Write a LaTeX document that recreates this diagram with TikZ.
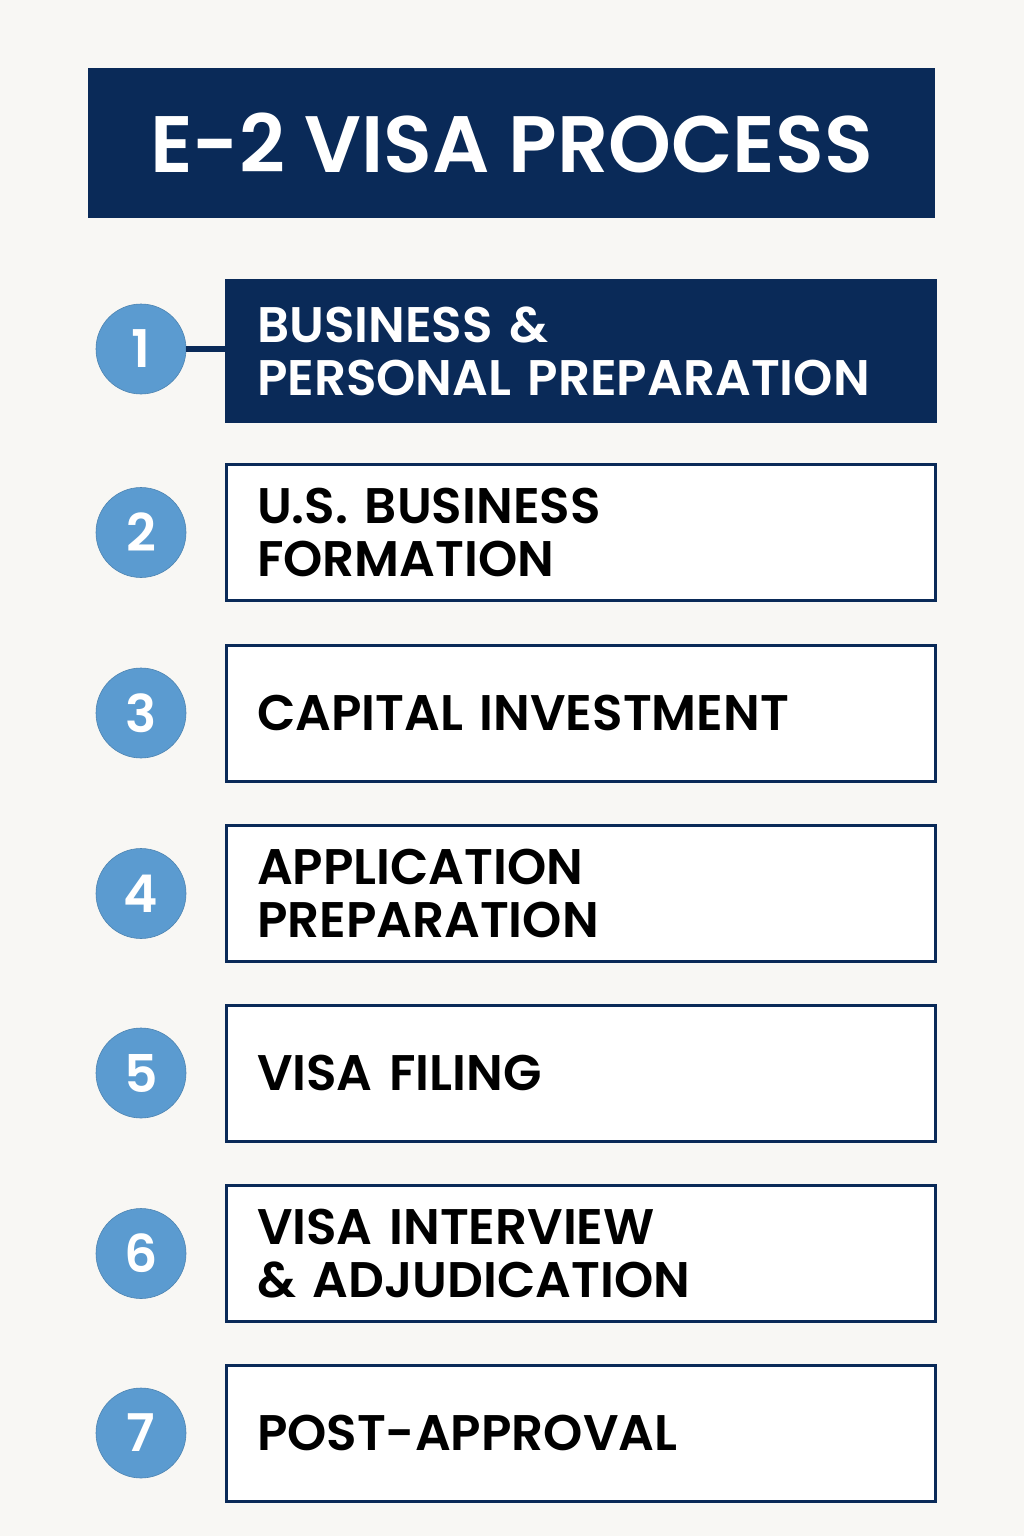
\documentclass[tikz,border=0pt]{standalone}
\usepackage{fontspec}
\setmainfont{Poppins}[BoldFont={Poppins SemiBold}]
\usepackage{tikz}

\definecolor{navy}{HTML}{0A2A58}
\definecolor{stepblue}{HTML}{5B9BD0}
\definecolor{paper}{HTML}{F8F7F4}

\tikzset{
  stepbox/.style={draw=navy, line width=3pt, fill=white, minimum width=709pt,
    minimum height=136pt, inner xsep=31pt, text width=647pt, align=left,
    font=\bfseries\fontsize{50}{53}\selectfont, anchor=west},
  stepnum/.style={circle, fill=stepblue, draw=stepblue!85!black, line width=0.6pt,
    minimum size=90pt, inner sep=0pt, text=white, font=\bfseries\fontsize{52}{52}\selectfont}
}

\begin{document}
\begin{tikzpicture}[x=1pt,y=1pt]
    \fill[paper] (0,0) rectangle (1024,-1536);
    \useasboundingbox (0,0) rectangle (1024,-1536);

    \node[fill=navy, minimum width=847pt, minimum height=150pt, text=white,
      font=\bfseries\fontsize{80}{80}\selectfont] (title) at (511.5,-143) {E-2 VISA PROCESS};

    % first step is highlighted
    \node[stepbox, fill=navy, text=white, minimum height=141pt] (step1) at (224.5,-351) {BUSINESS \&\\PERSONAL PREPARATION};
    \node[stepnum] (num1) at (141,-349) {1};
    \draw[navy, line width=6pt] (num1.east) -- (num1.east -| step1.west);

    \foreach \i/\txt/\yc in {2/{U.S. BUSINESS\\FORMATION}/-532.5,
                             3/{CAPITAL INVESTMENT}/-713,
                             4/{APPLICATION\\PREPARATION}/-893.5,
                             5/{VISA FILING}/-1073,
                             6/{VISA INTERVIEW\\\& ADJUDICATION}/-1253.5,
                             7/{POST-APPROVAL}/-1433}
    {
        \node[stepbox] (step\i) at (224.5,\yc) {\txt};
        \node[stepnum] (num\i) at (141,\yc) {\i};
    }
\end{tikzpicture}
\end{document}
